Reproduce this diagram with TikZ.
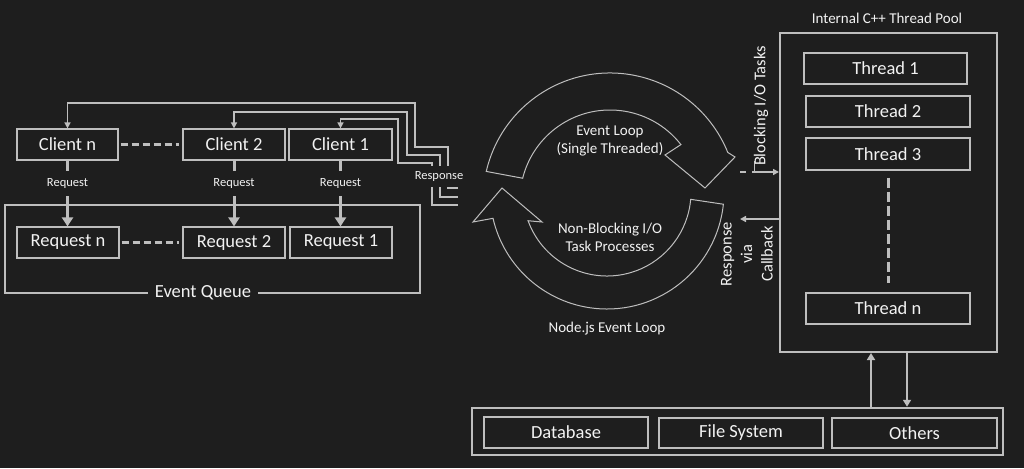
\documentclass[tikz,border=0pt]{standalone}
\usepackage{fontspec}
\setmainfont{Carlito}
\usetikzlibrary{arrows.meta,calc}
\definecolor{bg}{HTML}{1E1E1E}
\definecolor{ln}{HTML}{BEBEBE}
\definecolor{tx}{HTML}{F2F2F2}
\begin{document}
\begin{tikzpicture}[x=1pt,y=1pt,
  box/.style={draw=ln, line width=1.2pt, fill=bg, text=tx, inner sep=0pt,
    font=\fontsize{18.5}{22}\selectfont},
  bigbox/.style={draw=ln, line width=2pt, inner sep=0pt},
  lbl/.style={text=tx, inner sep=0pt},
  small/.style={lbl, font=\fontsize{12.5}{14}\selectfont},
  mid/.style={lbl, font=\fontsize{15}{18}\selectfont, align=center},
  side/.style={lbl, font=\fontsize{16.5}{20.5}\selectfont, align=center, rotate=90},
  reqline/.style={draw=ln, line width=3pt},
  reqarrow/.style={draw=ln, line width=3pt, -{Triangle[length=9pt,width=11pt]}},
  dashline/.style={draw=ln, line width=3pt, dash pattern=on 7pt off 4pt},
  respline/.style={draw=ln, line width=1.6pt, -{Triangle[length=6pt,width=6pt]}},
  thinarrow/.style={draw=ln, line width=1.5pt, -{Triangle[length=6pt,width=6pt]}},
  poolarrow/.style={draw=ln, line width=2pt, -{Triangle[length=7pt,width=8pt]}},
  loopshape/.style={draw=ln, line width=1pt}
]
\fill[bg] (0,0) rectangle (1024,-468);
\useasboundingbox (0,0) rectangle (1024,-468);

% ---------- Event queue ----------
\node[bigbox, minimum width=415pt, minimum height=88pt] (eq) at (212.5,-249) {};
\node[lbl, fill=bg, inner xsep=7pt, inner ysep=2pt, font=\fontsize{18.5}{22}\selectfont] (eql) at (203,-293) {Event Queue};

% ---------- Clients ----------
\node[box, minimum width=101pt, minimum height=31pt] (cn) at (67.5,-144.5) {Client n};
\node[box, minimum width=102pt, minimum height=31pt] (c2) at (234,-144.5) {Client 2};
\node[box, minimum width=103pt, minimum height=31pt] (c1) at (340.5,-144.5) {Client 1};

% ---------- Requests ----------
\node[box, minimum width=102pt, minimum height=31pt] (rn) at (68,-242.5) {Request n};
\node[box, minimum width=102pt, minimum height=31pt] (r2) at (234,-242.5) {Request 2};
\node[box, minimum width=102pt, minimum height=31pt] (r1) at (341,-242.5) {Request 1};

\draw[dashline] ([xshift=2pt]cn.east) -- ([xshift=-3pt]c2.west);
\draw[dashline] ([xshift=2pt]rn.east) -- ([xshift=-3pt]r2.west);

\node[small, minimum height=25pt] (qn) at (67.5,-183.5) {Request};
\node[small, minimum height=25pt] (q2) at (234,-183.5) {Request};
\node[small, minimum height=25pt] (q1) at (340.5,-183.5) {Request};
\draw[reqline] (cn.south) -- (qn.north);
\draw[reqline] (c2.south) -- (q2.north);
\draw[reqline] (c1.south) -- (q1.north);
\draw[reqarrow] (qn.south) -- (qn.south |- rn.north);
\draw[reqarrow] (q2.south) -- (q2.south |- r2.north);
\draw[reqarrow] (q1.south) -- (q1.south |- r1.north);

% ---------- Response paths ----------
\coordinate (pn) at (458,-188);
\coordinate (p2) at (458,-197);
\coordinate (p1) at (458,-205);
\draw[respline] (pn) -- (448,-188) -- (448,-147) -- (415,-147) -- (415,-103) -| (cn.north);
\draw[respline] (p2) -- (440,-197) -- (440,-155) -- (407,-155) -- (407,-112) -| (c2.north);
\draw[respline] (p1) -- (432,-205) -- (432,-163) -- (398,-163) -- (398,-119) -| (c1.north);
\node[small, fill=bg, minimum height=21pt, inner xsep=1pt] (resp) at (439,-176) {Response};

% ---------- Event loop ----------
\coordinate (cu) at (610,-200);
\draw[loopshape] ($(cu)+(167:127pt)$) arc[start angle=167, end angle=22, radius=127pt]
  -- (735,-157) -- (705,-188) -- (665,-155)
  -- ($(cu)+(38:90pt)$) arc[start angle=38, end angle=166, radius=90pt] -- cycle;
\coordinate (cl) at (607,-192);
\draw[loopshape] ($(cl)+(-6:117pt)$) arc[start angle=-6, end angle=-167, radius=117pt]
  -- (473,-222) -- (502,-188) -- (542,-222)
  -- ($(cl)+(-160:84pt)$) arc[start angle=-160, end angle=-5, radius=84pt] -- cycle;

\node[mid] (el) at (610,-141) {Event Loop\\(Single Threaded)};
\node[mid] (nb) at (610,-237) {Non-Blocking I/O\\Task Processes};
\node[mid] (nj) at (607,-329) {Node.js Event Loop};

% ---------- Thread pool ----------
\node[bigbox, minimum width=217pt, minimum height=319pt] (pool) at (888.5,-192.5) {};
\node[mid] (pooll) at (887,-18) {Internal C++ Thread Pool};
\node[box, minimum width=163pt, minimum height=31pt] (t1) at (885.5,-68.5) {Thread 1};
\node[box, minimum width=164pt, minimum height=31pt] (t2) at (888,-111.5) {Thread 2};
\node[box, minimum width=164pt, minimum height=32pt] (t3) at (888,-154) {Thread 3};
\node[box, minimum width=164pt, minimum height=31pt] (tn) at (888,-308.5) {Thread n};
\draw[draw=ln, line width=3pt, dash pattern=on 10pt off 4pt, shorten <=7pt, shorten >=9pt] (t3.south) -- (t3.south |- tn.north);

\coordinate (bl) at (740,-172);
\coordinate (cb) at (740,-219);
\draw[thinarrow, dash pattern=on 6pt off 6pt on 40pt] (bl) -- (pool.west |- bl);
\draw[thinarrow] (pool.west |- cb) -- (cb);
\draw[ln, line width=1pt] (754,-161) -- (754,-172);
\node[side] (blt) at (761,-106) {Blocking I/O Tasks};
\node[side] (cbt) at (747,-254) {Response\\via\\Callback};

% ---------- Bottom resources ----------
\node[draw=ln, line width=2.5pt, inner sep=0pt, minimum width=531pt, minimum height=47pt] (bot) at (737.5,-431.5) {};
\node[box, minimum width=164pt, minimum height=31pt] (db) at (566,-432.5) {Database};
\node[box, minimum width=164pt, minimum height=30pt] (fs) at (741,-433) {File System};
\node[box, minimum width=165pt, minimum height=30pt] (ot) at (914.5,-433) {Others};

\coordinate (ua) at (871,0);
\coordinate (da) at (907,0);
\draw[poolarrow] (bot.north -| ua) -- (pool.south -| ua);
\draw[poolarrow] (pool.south -| da) -- (bot.north -| da);
\end{tikzpicture}
\end{document}
